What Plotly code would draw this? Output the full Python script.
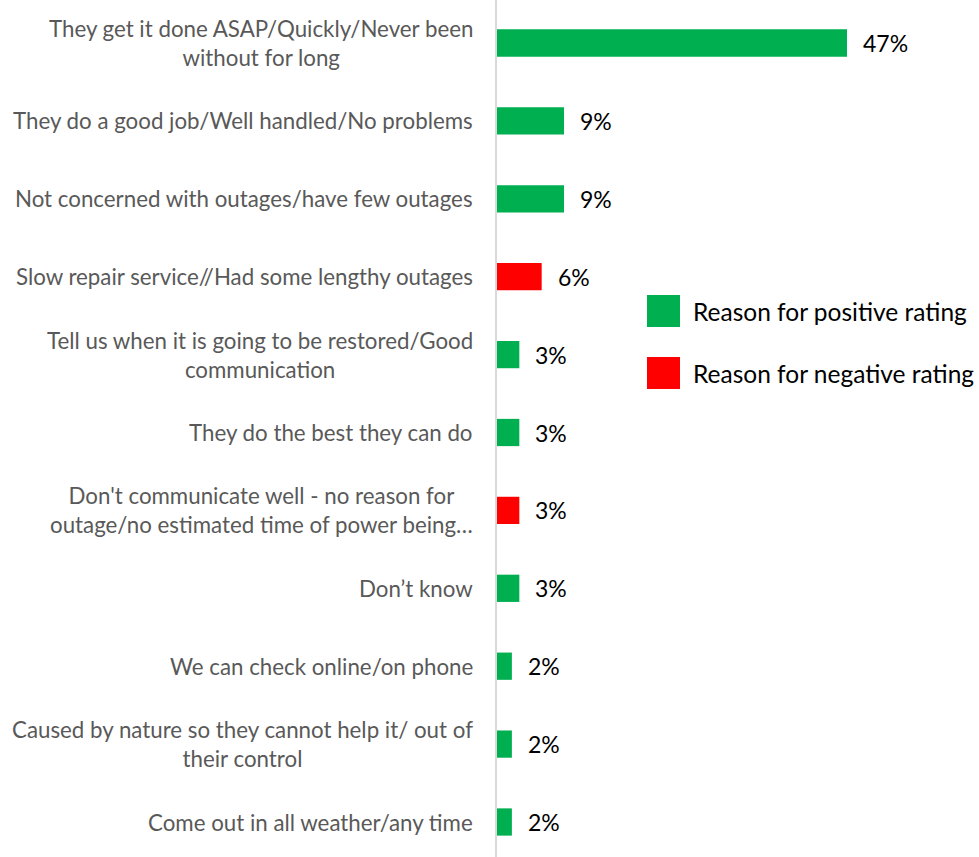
import plotly.graph_objects as go

# Reasons given for the rating of outage handling
categories = [
    "They get it done ASAP/Quickly/Never been<br>without for long",
    "They do a good job/Well handled/No problems",
    "Not concerned with outages/have few outages",
    "Slow repair service//Had some lengthy outages",
    "Tell us when it is going to be restored/Good<br>communication",
    "They do the best they can do",
    "Don't communicate well - no reason for<br>outage/no estimated time of power being…",
    "Don’t know",
    "We can check online/on phone",
    "Caused by nature so they cannot help it/ out of<br>their control",
    "Come out in all weather/any time",
]
values = [47, 9, 9, 6, 3, 3, 3, 3, 2, 2, 2]
kinds = ["pos", "pos", "pos", "neg", "pos", "pos", "neg", "pos", "pos", "pos", "pos"]

legend_names = ["Reason for positive rating", "Reason for negative rating"]
palette = {"pos": "#00B050", "neg": "#FF0000"}
legend_kinds = ["pos", "neg"]

FONT = "Lato"
W, H = 979, 857
left = 497

idx = list(range(len(categories)))
fig = go.Figure()
fig.add_trace(go.Bar(
    x=values,
    y=idx,
    orientation="h",
    marker=dict(color=[palette[k] for k in kinds], line=dict(width=0)),
    width=0.35,
    showlegend=False,
    hoverinfo="skip",
))

annotations = []
# category labels, centred lines, right edge just left of the axis
for i, label in enumerate(categories):
    annotations.append(dict(
        x=0, y=i, xref="x", yref="y", text=label, showarrow=False,
        xanchor="right", yanchor="middle", align="center", xshift=-22,
        font=dict(family=FONT, size=22.3, color="#595959"),
    ))
# value labels beyond each bar end
for i, v in enumerate(values):
    annotations.append(dict(
        x=v, y=i, xref="x", yref="y", text=f"{v}%", showarrow=False,
        xanchor="left", yanchor="middle", xshift=14,
        font=dict(family=FONT, size=23, color="#000000"),
    ))

# legend keys drawn as large squares
shapes = []
leg_x0 = (647 - left) / (W - left)
leg_x1 = (680 - left) / (W - left)
for j, (name, k) in enumerate(zip(legend_names, legend_kinds)):
    yc = 311 + j * 62
    shapes.append(dict(
        type="rect", xref="paper", yref="paper",
        x0=leg_x0, x1=leg_x1, y0=1 - (yc + 16) / H, y1=1 - (yc - 16) / H,
        fillcolor=palette[k], line=dict(width=0),
    ))
    annotations.append(dict(
        x=(691 - left) / (W - left), y=1 - yc / H, xref="paper", yref="paper",
        text=name, showarrow=False, xanchor="left", yanchor="middle",
        font=dict(family=FONT, size=24.5, color="#000000"),
    ))

px_per_unit = 350 / 47
xmax = (W - left) / px_per_unit
band = 77.9
top_pad = 43 / band
bot_pad = (H - 822) / band

fig.update_layout(
    width=W, height=H,
    margin=dict(l=left, r=0, t=0, b=0),
    paper_bgcolor="white", plot_bgcolor="white",
    xaxis=dict(range=[0, xmax], showgrid=False, zeroline=False,
               showticklabels=False, showline=False, fixedrange=True),
    yaxis=dict(range=[10 + bot_pad, -top_pad], showgrid=False, zeroline=False,
               showticklabels=False, showline=True, linecolor="#D9D9D9",
               linewidth=2, ticks="", fixedrange=True),
    annotations=annotations,
    shapes=shapes,
    showlegend=False,
)

fig.write_html("out.html")
